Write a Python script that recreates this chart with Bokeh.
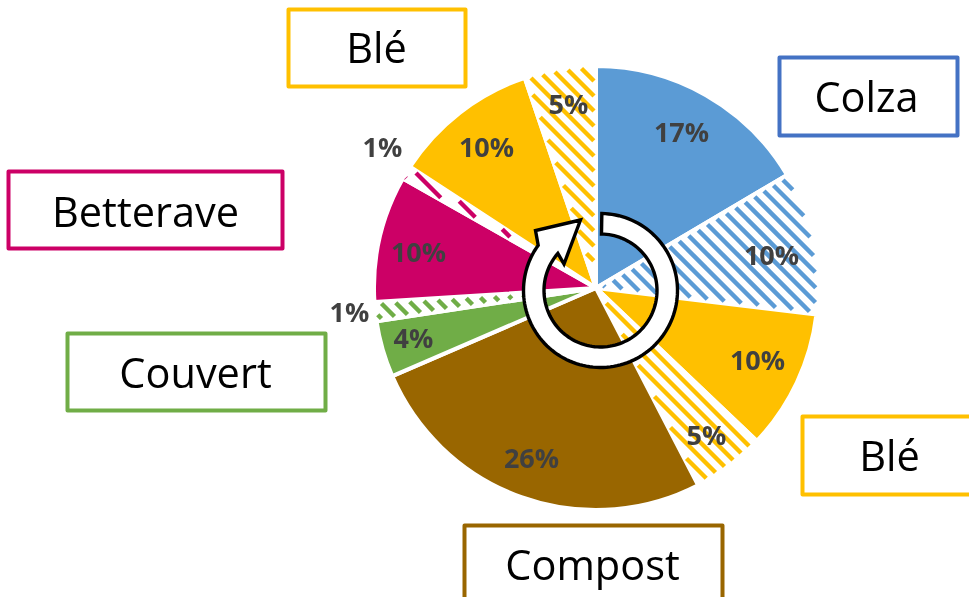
import numpy as np
from bokeh.plotting import figure
from bokeh.models import ColumnDataSource
from bokeh.core.properties import value
from bokeh.embed import file_html
from bokeh.resources import INLINE

W, H = 969, 597

# ---- data (clockwise from 12 o'clock)
slice_labels = ["17%", "10%", "10%", "5%", "26%", "4%", "1%", "10%", "1%", "10%", "5%"]
slice_values = [16.5, 10.4, 10.2, 5.3, 26.1, 4.1, 1.4, 9.2, 1.0, 10.6, 5.2]
slice_colors = ["#5B9BD5", "#5B9BD5", "#FFC000", "#FFC000", "#996600", "#70AD47",
                "#70AD47", "#CC0066", "#CC0066", "#FFC000", "#FFC000"]
slice_hatched = [False, True, False, True, False, False, True, False, True, False, True]
box_names = ["Blé", "Colza", "Betterave", "Couvert", "Blé", "Compost"]
box_colors = ["#FFC000", "#4472C4", "#CC0066", "#70AD47", "#FFC000", "#996600"]

# ---- layout, in page pixels
CX, CY, R = 595.5, 287.5, 222.0
label_xy = [(681, 131), (771, 254), (757, 359), (706, 434), (531, 457), (413, 337),
            (349, 311), (418, 251), (382, 146), (486, 146), (568, 103)]
box_rects = [(288, 9, 465, 86), (779, 57, 957, 135), (8, 171, 282, 248),
             (67, 333, 325, 410), (802, 416, 985, 494), (464, 525, 722, 612)]
box_text = [(376, 46), (866, 95), (145, 210), (195, 371), (889, 454), (592, 563)]

def Y(y): return H - y

p = figure(width=W, height=H, x_range=(0, W), y_range=(0, H), output_backend="svg",
           toolbar_location=None, min_border=0, outline_line_color=None,
           styles={"position": "fixed", "left": "0px", "top": "0px"})
p.xaxis.visible = False
p.yaxis.visible = False
p.grid.visible = False
p.background_fill_color = "white"

v = np.array(slice_values, dtype=float)
edges = np.concatenate([[0], np.cumsum(v)]) / v.sum() * 2 * np.pi
start = np.pi / 2 - edges[:-1]
end = np.pi / 2 - edges[1:]

src = ColumnDataSource(dict(start=start, end=end,
                            fill=["white" if h else c for h, c in zip(slice_hatched, slice_colors)]))
p.wedge(x=CX, y=Y(CY), radius=R, start_angle="start", end_angle="end", direction="clock",
        source=src, fill_color="fill", line_color="white", line_width=4)

# 45 degree stripes of the hatched slices, clipped to each slice
STEP, PHASE, INSET = 15.0, -513.0, 2.0
for i, hatched in enumerate(slice_hatched):
    if not hatched:
        continue
    a0, a1 = edges[i], edges[i + 1]
    xs, ys = [], []
    for k in np.arange(PHASE - 40 * STEP, PHASE + 40 * STEP, STEP):
        t = np.arange(CX - R, CX + R, 0.25)
        yy = t + k                          # screen y, growing downwards
        dx, dy = t - CX, yy - CY
        r = np.hypot(dx, dy)
        ang = np.mod(np.arctan2(dx, -dy), 2 * np.pi)
        inside = (r < R - 2) & (ang > a0) & (ang < a1) \
            & (r * np.sin(np.minimum(ang - a0, np.pi / 2)) > INSET) \
            & (r * np.sin(np.minimum(a1 - ang, np.pi / 2)) > INSET)
        if not inside.any():
            continue
        idx = np.flatnonzero(inside)
        for run in np.split(idx, np.flatnonzero(np.diff(idx) > 1) + 1):
            xs.append([t[run[0]], t[run[-1]]])
            ys.append([Y(yy[run[0]]), Y(yy[run[-1]])])
    p.multi_line(xs, ys, line_color=slice_colors[i], line_width=4.5, line_cap="butt")

# circular arrow
c_x, c_y, r_o, r_i = 600.0, 290.0, 77.0, 56.5
th = np.radians(np.linspace(1, 306, 120))
th_rev = np.radians(np.linspace(311, 1, 120))
outer = [(c_x + r_o * np.sin(t), c_y - r_o * np.cos(t)) for t in th]
inner = [(c_x + r_i * np.sin(t), c_y - r_i * np.cos(t)) for t in th_rev]
head = [(535, 230), (580, 219.5), (563.5, 263.5)]
pts = outer + head + inner
p.patch([a for a, b in pts], [Y(b) for a, b in pts], fill_color="white", line_color="black",
        line_width=3.4, line_join="miter")

# percentage labels
p.text([a for a, b in label_xy], [Y(b) for a, b in label_xy], text=slice_labels,
       text_font=value("Open Sans"), text_font_style="bold", text_font_size="27px",
       text_color="#404040", text_align="center", text_baseline="middle")

# boxes
for (x0, y0, x1, y1), c in zip(box_rects, box_colors):
    p.quad(left=x0, right=x1, top=Y(y0), bottom=Y(y1), fill_color="white",
           line_color=c, line_width=4, line_join="round")
p.text([a for a, b in box_text], [Y(b) for a, b in box_text], text=box_names,
       text_font=value("Open Sans"), text_font_size="41.5px", text_color="black",
       text_align="center", text_baseline="middle")

open("out.html", "w").write(file_html(p, INLINE))
